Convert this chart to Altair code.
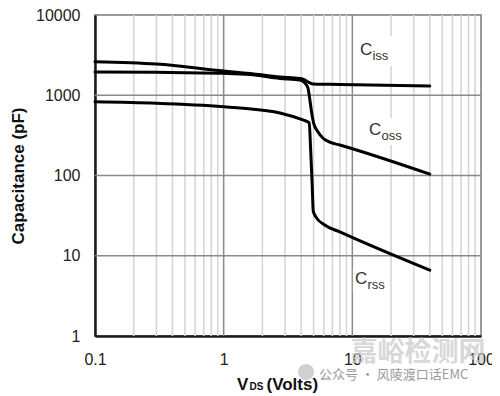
import altair as alt
import pandas as pd

# ---- data ----
ciss_v = [0.1, 0.3, 1.0, 1.6, 2.74, 3.9, 4.13, 4.5, 4.94, 6.0, 8.0, 40]
ciss_c = [2620, 2450, 2010, 1870, 1690, 1620, 1590, 1470, 1385, 1370, 1365, 1305]

coss_v = [0.1, 0.3, 1.0, 1.6, 2.74, 3.9, 4.28, 4.52, 4.68, 4.86, 5.0, 5.4, 5.9, 6.6, 8.0, 40]
coss_c = [1950, 1930, 1877, 1815, 1620, 1550, 1420, 1230, 870, 570, 450, 350, 293, 262, 240, 104]

crss_v = [0.1, 0.3, 1.0, 1.34, 2.74, 4.13, 4.5, 4.62, 4.75, 4.87, 4.97, 5.2, 6.1, 8.0, 40]
crss_c = [830, 795, 720, 693, 601, 492, 466, 451, 200, 80, 36, 30.5, 24.2, 19.8, 6.6]

x_ticks = [0.1, 1, 10, 100]
y_ticks = [1, 10, 100, 1000, 10000]
x_minor = [0.2, 0.3, 0.4, 0.5, 0.6, 0.7, 0.8, 0.9,
           2, 3, 4, 5, 6, 7, 8, 9,
           20, 30, 40, 50, 60, 70, 80, 90]
x_major_inner = [1, 10]
y_major_inner = [10, 100, 1000]

lab_main = ["C", "C", "C"]
lab_sub = ["iss", "oss", "rss"]
lab_x = [11.45, 13.46, 10.47]
lab_y = [3660, 364, 5.06]
box_x1 = [10.67, 12.5, 10.1]
box_x2 = [21.8, 24.7, 18.2]
box_y1 = [2315, 240, 3.53]
box_y2 = [5475, 521, 7.04]

FONT = "Liberation Sans"

rows = []
for name, vs, cs in (("Ciss", ciss_v, ciss_c), ("Coss", coss_v, coss_c), ("Crss", crss_v, crss_c)):
    for i, (v, c) in enumerate(zip(vs, cs)):
        rows.append({"series": name, "v": v, "c": c, "ord": i})
curves = pd.DataFrame(rows)

labels = pd.DataFrame({"main": lab_main, "sub": lab_sub, "x": lab_x, "y": lab_y,
                       "bx1": box_x1, "bx2": box_x2, "by1": box_y1, "by2": box_y2})

xscale = alt.Scale(type="log", domain=[0.1, 100])
yscale = alt.Scale(type="log", domain=[1, 10000])

xaxis = alt.Axis(values=x_ticks, format="~g", title=None, grid=False,
                 ticks=False, labelPadding=15, labelFontSize=16,
                 labelFont=FONT, labelColor="#222222", labelFlush=False,
                 labelOverlap=False, domainColor="#1a1a1a", domainWidth=2.5)
yaxis = alt.Axis(values=y_ticks, format="~g", title="Capacitance (pF)",
                 grid=False, ticks=False, labelPadding=15, labelFontSize=16,
                 labelFont=FONT, labelColor="#222222", labelOverlap=False,
                 domainColor="#1a1a1a", domainWidth=2.5,
                 titleFont=FONT, titleFontSize=17, titleFontWeight="bold",
                 titleColor="#111111", titleX=-68, titleY=160.5)

def X(f):
    return alt.X(f, scale=xscale, axis=xaxis, title=None)

def Y(f):
    return alt.Y(f, scale=yscale, axis=yaxis, title="Capacitance (pF)")

minor = alt.Chart(pd.DataFrame({"g": x_minor})).mark_rule(
    color="#d4d4d4", strokeWidth=1.5
).encode(x=X("g:Q"))

major_v = alt.Chart(pd.DataFrame({"g": x_major_inner})).mark_rule(
    color="#8a8a8a", strokeWidth=1.5
).encode(x=X("g:Q"))

major_h = alt.Chart(pd.DataFrame({"h": y_major_inner})).mark_rule(
    color="#8a8a8a", strokeWidth=1.5
).encode(y=Y("h:Q"))

boxes = alt.Chart(labels).mark_rect(color="white").encode(
    x=X("bx1:Q"), x2="bx2:Q",
    y=Y("by1:Q"), y2="by2:Q",
)

lines = alt.Chart(curves).mark_line(
    color="black", strokeWidth=3, interpolate="monotone", strokeCap="round"
).encode(
    x=X("v:Q"),
    y=Y("c:Q"),
    detail="series:N",
    order="ord:Q",
)

main_txt = alt.Chart(labels).mark_text(
    align="left", baseline="middle", fontSize=17, font=FONT, color="#333333"
).encode(x=X("x:Q"), y=Y("y:Q"), text="main:N")

sub_txt = alt.Chart(labels).mark_text(
    align="left", baseline="middle", fontSize=13, font=FONT, color="#333333",
    dx=12.5, dy=6
).encode(x=X("x:Q"), y=Y("y:Q"), text="sub:N")

xt_v = alt.Chart(pd.DataFrame({"t": ["V"]})).mark_text(
    align="left", baseline="alphabetic", fontSize=17, fontWeight="bold", font=FONT, color="#111111"
).encode(x=alt.value(142), y=alt.value(374.5), text="t:N")
xt_ds = alt.Chart(pd.DataFrame({"t": ["DS"]})).mark_text(
    align="left", baseline="alphabetic", fontSize=10, fontWeight="bold", font=FONT, color="#111111"
).encode(x=alt.value(154.5), y=alt.value(374.5), text="t:N")
xt_volts = alt.Chart(pd.DataFrame({"t": ["(Volts)"]})).mark_text(
    align="left", baseline="alphabetic", fontSize=17, fontWeight="bold", font=FONT, color="#111111"
).encode(x=alt.value(171.5), y=alt.value(374.5), text="t:N")

wm_icon = alt.Chart(pd.DataFrame({"t": ["icon"]})).mark_point(
    shape="circle", filled=True, size=260, color="#c4c4c4", opacity=0.8
).encode(x=alt.value(211), y=alt.value(357))
wm1 = alt.Chart(pd.DataFrame({"t": ["嘉峪检测网"]})).mark_text(
    align="center", baseline="middle", fontSize=27, fontWeight="bold",
    font="Noto Sans CJK SC", color="#c8c8c8", opacity=0.7
).encode(x=alt.value(323), y=alt.value(338), text="t:N")
wm2 = alt.Chart(pd.DataFrame({"t": ["公众号 · 风陵渡口话EMC"]})).mark_text(
    align="left", baseline="middle", fontSize=13,
    font="Noto Sans CJK SC", color="#9a9a9a"
).encode(x=alt.value(224), y=alt.value(360), text="t:N")

chart = alt.layer(
    minor, major_v, major_h, boxes, lines, main_txt, sub_txt,
    xt_v, xt_ds, xt_volts, wm_icon, wm1, wm2
).properties(
    width=386, height=321,
    autosize=alt.AutoSizeParams(type="none"),
    padding={"left": 87, "top": 7, "right": 11, "bottom": 58},
    background="white",
).configure_view(
    stroke="#9a9a9a", strokeWidth=2
)

chart.save("out.html", embed_options={"renderer": "svg", "actions": False})
